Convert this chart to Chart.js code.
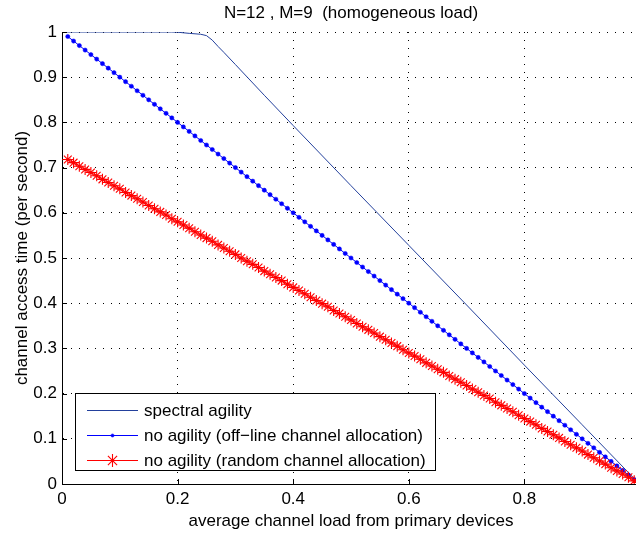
<!DOCTYPE html>
<html><head><meta charset="utf-8">
<style>
html,body{margin:0;padding:0;overflow:hidden;background:#fff;width:636px;height:538px}
#wrap{position:relative;width:660px;height:538px}
</style>
<script src="https://cdn.jsdelivr.net/npm/chart.js@4/dist/chart.umd.min.js"></script>
</head><body><div id="wrap"><canvas id="c" width="660" height="538"></canvas></div>
<script>
const chartTitle = 'N=12 , M=9  (homogeneous load)';
const xTitle = 'average channel load from primary devices';
const yTitle = 'channel access time (per second)';
const seriesNames = ['spectral agility', 'no agility (off\u2212line channel allocation)', 'no agility (random channel allocation)'];

const xTicks = [0, 0.2, 0.4, 0.6, 0.8, 1];
const yTicks = [0, 0.1, 0.2, 0.3, 0.4, 0.5, 0.6, 0.7, 0.8, 0.9, 1];

const loadX = [0.01,0.02,0.03,0.04,0.05,0.06,0.07,0.08,0.09,0.10,
  0.11,0.12,0.13,0.14,0.15,0.16,0.17,0.18,0.19,0.20,
  0.21,0.22,0.23,0.24,0.25,0.26,0.27,0.28,0.29,0.30,
  0.31,0.32,0.33,0.34,0.35,0.36,0.37,0.38,0.39,0.40,
  0.41,0.42,0.43,0.44,0.45,0.46,0.47,0.48,0.49,0.50,
  0.51,0.52,0.53,0.54,0.55,0.56,0.57,0.58,0.59,0.60,
  0.61,0.62,0.63,0.64,0.65,0.66,0.67,0.68,0.69,0.70,
  0.71,0.72,0.73,0.74,0.75,0.76,0.77,0.78,0.79,0.80,
  0.81,0.82,0.83,0.84,0.85,0.86,0.87,0.88,0.89,0.90,
  0.91,0.92,0.93,0.94,0.95,0.96,0.97,0.98,0.99];

const offlineY = [0.99,0.98,0.97,0.96,0.95,0.94,0.93,0.92,0.91,0.90,
  0.89,0.88,0.87,0.86,0.85,0.84,0.83,0.82,0.81,0.80,
  0.79,0.78,0.77,0.76,0.75,0.74,0.73,0.72,0.71,0.70,
  0.69,0.68,0.67,0.66,0.65,0.64,0.63,0.62,0.61,0.60,
  0.59,0.58,0.57,0.56,0.55,0.54,0.53,0.52,0.51,0.50,
  0.49,0.48,0.47,0.46,0.45,0.44,0.43,0.42,0.41,0.40,
  0.39,0.38,0.37,0.36,0.35,0.34,0.33,0.32,0.31,0.30,
  0.29,0.28,0.27,0.26,0.25,0.24,0.23,0.22,0.21,0.20,
  0.19,0.18,0.17,0.16,0.15,0.14,0.13,0.12,0.11,0.10,
  0.09,0.08,0.07,0.06,0.05,0.04,0.03,0.02,0.01];

const randomY = [0.718,0.711,0.703,0.696,0.689,0.682,0.674,0.667,0.660,0.653,
  0.645,0.638,0.631,0.624,0.616,0.609,0.602,0.595,0.587,0.580,
  0.573,0.566,0.558,0.551,0.544,0.537,0.529,0.522,0.515,0.508,
  0.500,0.493,0.486,0.479,0.471,0.464,0.457,0.450,0.442,0.435,
  0.428,0.421,0.413,0.406,0.399,0.392,0.384,0.377,0.370,0.363,
  0.355,0.348,0.341,0.334,0.326,0.319,0.312,0.305,0.297,0.290,
  0.283,0.276,0.268,0.261,0.254,0.247,0.239,0.232,0.225,0.218,
  0.210,0.203,0.196,0.189,0.181,0.174,0.167,0.160,0.152,0.145,
  0.138,0.131,0.123,0.116,0.109,0.102,0.094,0.087,0.080,0.073,
  0.065,0.058,0.051,0.044,0.036,0.029,0.022,0.015,0.007];

const spectralX = [0, 0.05, 0.10, 0.15, 0.19, 0.20, 0.22, 0.24, 0.25, 0.26, 0.27, 0.28, 0.30, 0.35, 0.40, 0.50, 0.60, 0.70, 0.80, 0.90, 0.99];
const spectralY = [1, 1, 1, 1, 1, 0.9995, 0.997, 0.995, 0.992, 0.982, 0.968, 0.955, 0.928, 0.86, 0.793, 0.66, 0.528, 0.396, 0.263, 0.131, 0.012];

const colSpectral = '#23409c';
const colOffline = '#0000ff';
const colRandom = '#ff0000';
const FONT = 'Helvetica, Arial, "Liberation Sans", sans-serif';

function pts(xs, ys){ return xs.map((v,i)=>({x:v, y:ys[i]})); }

const innerTicks = {
  id: 'innerTicks',
  afterDraw(chart){
    const {ctx, chartArea:a, scales:{x, y}} = chart;
    ctx.save();
    ctx.strokeStyle = '#000'; ctx.lineWidth = 1;
    ctx.beginPath();
    xTicks.forEach(v=>{ const px = Math.round(x.getPixelForValue(v)) + 0.5; ctx.moveTo(px, a.bottom); ctx.lineTo(px, a.bottom - 5); });
    yTicks.forEach(v=>{ const py = Math.round(y.getPixelForValue(v)) + 0.5; ctx.moveTo(a.left, py); ctx.lineTo(a.left + 5, py); });
    ctx.stroke();
    ctx.fillStyle = '#000';
    ctx.font = '17px ' + FONT;
    ctx.textAlign = 'center'; ctx.textBaseline = 'middle';
    ctx.fillText(chartTitle, (a.left + a.right) / 2, 13);
    ctx.restore();
  }
};

const boxLegend = {
  id: 'boxLegend',
  afterDraw(chart){
    const {ctx} = chart;
    const L = 75.5, T = 393.5, W = 360, H = 77;
    ctx.save();
    ctx.fillStyle = '#fff';
    ctx.fillRect(L, T, W, H);
    ctx.strokeStyle = '#000'; ctx.lineWidth = 1;
    ctx.strokeRect(L, T, W, H);
    const rows = [410, 435, 460];
    chart.data.datasets.forEach((ds, i)=>{
      const yy = rows[i] + 0.5;
      ctx.strokeStyle = ds.borderColor; ctx.lineWidth = 1;
      ctx.beginPath(); ctx.moveTo(87, yy); ctx.lineTo(138, yy); ctx.stroke();
      if (ds.pointRadius > 0) {
        ctx.fillStyle = ds.pointBackgroundColor; ctx.strokeStyle = ds.pointBorderColor;
        ctx.lineWidth = ds.pointBorderWidth;
        Chart.helpers.drawPoint(ctx, {pointStyle: ds.pointStyle, radius: ds.pointStyle === 'circle' ? 1.6 : ds.pointRadius + 1, rotation: 0, borderWidth: ds.pointBorderWidth}, 112.5, yy);
      }
      ctx.fillStyle = '#000';
      ctx.font = '17px ' + FONT;
      ctx.textAlign = 'left'; ctx.textBaseline = 'middle';
      ctx.fillText(ds.label, 144, yy + 0.5);
    });
    ctx.restore();
  }
};

new Chart(document.getElementById('c'), {
  type: 'line',
  data: {
    datasets: [
      { label: seriesNames[0], data: pts(spectralX, spectralY), borderColor: colSpectral, backgroundColor: colSpectral,
        borderWidth: 1, pointRadius: 0, pointStyle: false, tension: 0, order: 3 },
      { label: seriesNames[1], data: pts(loadX, offlineY), borderColor: colOffline, backgroundColor: colOffline,
        borderWidth: 1, pointRadius: 2.1, pointStyle: 'circle', pointBackgroundColor: colOffline, pointBorderColor: colOffline,
        pointBorderWidth: 0.5, tension: 0, order: 2 },
      { label: seriesNames[2], data: pts(loadX, randomY), borderColor: colRandom, backgroundColor: colRandom,
        borderWidth: 1, pointRadius: 5.5, pointStyle: 'star', pointBackgroundColor: colRandom, pointBorderColor: colRandom,
        pointBorderWidth: 1.1, tension: 0, order: 1 }
    ]
  },
  options: {
    responsive: false, animation: false, devicePixelRatio: 1,
    layout: { padding: { top: 32, right: 20, bottom: 0, left: 0 } },
    plugins: { legend: { display: false }, title: { display: false }, tooltip: { enabled: false } },
    scales: {
      x: {
        type: 'linear', min: 0, max: 1,
        afterBuildTicks: s => { s.ticks = xTicks.map(v => ({value: v})); },
        afterFit: s => { s.height = 54; },
        ticks: { color: '#000', font: { family: FONT, size: 17 }, padding: 5, maxRotation: 0, autoSkip: false,
                 callback: v => String(v) },
        grid: { color: '#000', lineWidth: 1, drawTicks: false },
        border: { display: true, color: '#000', width: 1, dash: [1, 7] },
        title: { display: true, text: xTitle, color: '#000', font: { family: FONT, size: 17 }, padding: { top: 2, bottom: 6 } }
      },
      y: {
        type: 'linear', min: 0, max: 1,
        afterBuildTicks: s => { s.ticks = yTicks.map(v => ({value: v})); },
        afterFit: s => { s.width = 62; },
        ticks: { color: '#000', font: { family: FONT, size: 17 }, padding: 5, autoSkip: false,
                 callback: v => String(v) },
        grid: { color: '#000', lineWidth: 1, drawTicks: false },
        border: { display: true, color: '#000', width: 1, dash: [1, 7] },
        title: { display: true, text: yTitle, color: '#000', font: { family: FONT, size: 17 }, padding: { top: 12, bottom: 2 } }
      }
    }
  },
  plugins: [innerTicks, boxLegend]
});
</script>
</body></html>
